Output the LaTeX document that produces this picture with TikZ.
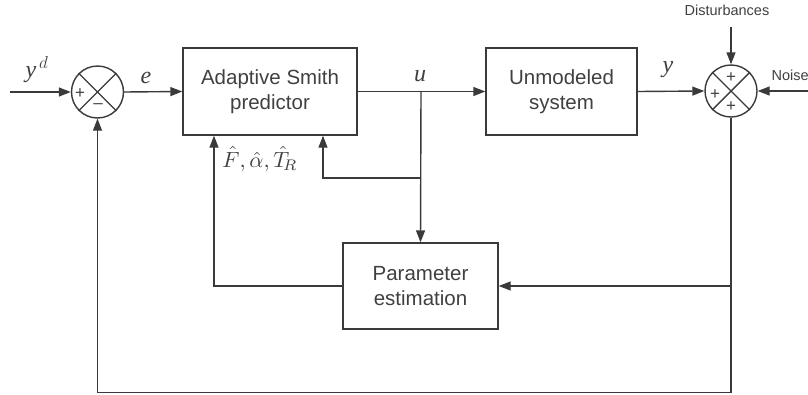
\documentclass[tikz,border=0pt]{standalone}
\usepackage{fontspec}
\usepackage{graphicx}
\setmainfont{Liberation Sans}
\newfontfamily\serifit{Liberation Serif}[ItalicFont={Liberation Serif Italic}]
\usetikzlibrary{arrows.meta}
\definecolor{ln}{HTML}{3A3A3A}
\definecolor{tx}{HTML}{404040}
\begin{document}
\begin{tikzpicture}[x=1pt,y=-1pt,
  line width=1.4pt,
  arr/.style={draw=ln,-{Triangle[length=12pt,width=9pt]}},
  blk/.style={draw=ln,rectangle,inner sep=0pt,align=center,font=\fontsize{20.5}{25}\selectfont,text=tx},
  sumn/.style={draw=ln,circle,minimum size=52pt,inner sep=0pt},
  lab/.style={font=\fontsize{24}{24}\selectfont\serifit\itshape,text=tx},
  sgn/.style={font=\fontsize{17}{17}\selectfont,text=tx,inner sep=0pt},
  small/.style={font=\fontsize{14.5}{16}\selectfont,text=tx}]
\useasboundingbox (0,0) rectangle (808,394);
% blocks
\node[blk,minimum width=174pt,minimum height=87pt] (asp) at (270,91.5) {Adaptive Smith\\predictor};
\node[blk,minimum width=151pt,minimum height=87pt] (um) at (561.5,91.5) {Unmodeled\\system};
\node[blk,minimum width=155pt,minimum height=86pt] (pe) at (420.5,286) {Parameter\\estimation};
% summing junctions
\node[sumn] (s1) at (97.5,92) {};
\draw[ln] (s1.north west) -- (s1.south east) (s1.north east) -- (s1.south west);
\node[sgn] (s1p) at (80,94) {+};
\node[sgn] (s1m) at (98,106) {--};
\node[sumn] (s2) at (731,91) {};
\draw[ln] (s2.north west) -- (s2.south east) (s2.north east) -- (s2.south west);
\node[sgn] (s2t) at (731,78) {+};
\node[sgn] (s2l) at (715,95) {+};
\node[sgn] (s2b) at (731,107) {+};
% labels
\node[lab] (lyd) at (37,70) {y$^{\,d}$};
\node[lab] (le) at (146,78) {e};
\node[lab] (lu) at (420,76) {u};
\node[lab] (ly) at (668,70) {y};
\node[text=tx,inner sep=0pt] (lp) at (260,159) {\scalebox{2.2}{$\hat F,\hat\alpha,\hat T_{\!R}$}};
\node[small,anchor=south] (dist) at (727,20) {Disturbances};
\node[small,anchor=west,inner sep=0pt] (noise) at (771,75) {Noise};
% coordinates
\coordinate (in) at (10,92);
\coordinate (br) at (421,92);
\coordinate (br2) at (421,178);
\coordinate (c2) at (323,178);
\coordinate (dst) at (731,27);
\coordinate (nin) at (808,91);
\coordinate (tap) at (731,286);
\coordinate (pl) at (214,286);
\coordinate (bot1) at (731,392.5);
\coordinate (bot2) at (97.5,392.5);
% connectors
\draw[arr] (in) -- (s1.west);
\draw[arr] (s1.east) -- (asp.west);
\draw[arr] (asp.east) -- (um.west);
\draw[arr] (br) -- (pe.north);
\draw[arr] (br2) -- (c2) -- (c2 |- asp.south);
\draw[arr] (um.east) -- (s2.west);
\draw[arr] (dst) -- (s2.north);
\draw[arr] (nin) -- (s2.east);
\draw[arr] (s2.south) -- (bot1) -- (bot2) -- (s1.south);
\draw[arr] (tap) -- (pe.east);
\draw[arr] (pe.west) -- (pl) -- (pl |- asp.south);
\end{tikzpicture}
\end{document}
